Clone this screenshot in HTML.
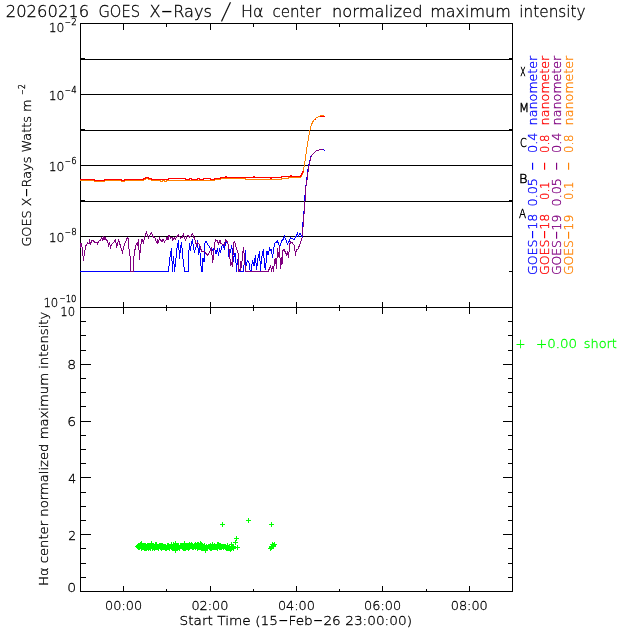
<!DOCTYPE html>
<html lang="en"><head><meta charset="utf-8"><title>20260216 GOES X-Rays / H-alpha center normalized maximum intensity</title>
<style>html,body{margin:0;padding:0;background:#fff}body{width:640px;height:640px;overflow:hidden}svg{display:block;will-change:transform}text{font-family:"DejaVu Sans Light","DejaVu Sans","Liberation Sans",sans-serif;font-weight:200;color:#000;fill:currentColor;stroke:currentColor;stroke-width:.3px}.ln{stroke:#000;stroke-width:1;fill:none;shape-rendering:crispEdges}.cv{stroke-width:1;fill:none;shape-rendering:crispEdges;stroke-linejoin:miter}</style></head><body>
<svg width="640" height="640" viewBox="0 0 640 640">
<rect width="640" height="640" fill="#fff"/>
<path class="ln" d="M80.5 23.5H512.5V591.5H80.5ZM80.5 307.5H512.5M80.5 59.5H512.5M80.5 94.5H512.5M80.5 130.5H512.5M80.5 165.5H512.5M80.5 201.5H512.5M80.5 236.5H512.5M123.5 23.5v6M123.5 301.5v12M123.5 591.5v-6M166.5 23.5v3M166.5 304.5v6M166.5 591.5v-3M210.5 23.5v6M210.5 301.5v12M210.5 591.5v-6M253.5 23.5v3M253.5 304.5v6M253.5 591.5v-3M296.5 23.5v6M296.5 301.5v12M296.5 591.5v-6M339.5 23.5v3M339.5 304.5v6M339.5 591.5v-3M382.5 23.5v6M382.5 301.5v12M382.5 591.5v-6M426.5 23.5v3M426.5 304.5v6M426.5 591.5v-3M469.5 23.5v6M469.5 301.5v12M469.5 591.5v-6M80.5 58.5h4M512.5 58.5h-4M80.5 129.5h4M512.5 129.5h-4M80.5 200.5h4M512.5 200.5h-4M80.5 271.5h4M512.5 271.5h-4M80.5 577.5h5M512.5 577.5h-5M80.5 563.5h5M512.5 563.5h-5M80.5 548.5h5M512.5 548.5h-5M80.5 534.5h10M512.5 534.5h-10M80.5 520.5h5M512.5 520.5h-5M80.5 506.5h5M512.5 506.5h-5M80.5 492.5h5M512.5 492.5h-5M80.5 477.5h10M512.5 477.5h-10M80.5 463.5h5M512.5 463.5h-5M80.5 449.5h5M512.5 449.5h-5M80.5 435.5h5M512.5 435.5h-5M80.5 421.5h10M512.5 421.5h-10M80.5 406.5h5M512.5 406.5h-5M80.5 392.5h5M512.5 392.5h-5M80.5 378.5h5M512.5 378.5h-5M80.5 364.5h10M512.5 364.5h-10M80.5 350.5h5M512.5 350.5h-5M80.5 335.5h5M512.5 335.5h-5M80.5 321.5h5M512.5 321.5h-5"/>
<polyline class="cv" style="stroke:#0000ff" points="80,271.5 168.5,271.5 169,266 169.5,260.5 170.5,254 171.5,248 172,261 172.5,271.5 173.5,256.5 174.5,271.5 175.5,263 177,248.5 178.5,240.5 179.5,258.5 180.5,248 181.5,242 182.5,254 183.5,263 184.5,271.5 188.3,271.5 188.5,258 189.5,243 190.5,250.5 191.5,242.5 192.5,240.5 193.5,248 194.5,251.5 196.5,246 197.5,240.5 198.5,254.5 199.5,245.5 200.5,260.5 201.5,271.5 202.5,271.5 203,258 204,262 205,243 206,241.5 207.5,244 209.5,247 210.5,249.5 211.5,253 212.5,249.5 214.5,248.5 216,254 217.5,248 218.5,255.5 219.5,248 220.5,253 221.5,247 223,245 224.5,249 225.5,243 227,242.5 228.5,245 229,256.5 230.5,251.5 231.5,246.5 232.5,249.5 233.5,261.5 234.5,253.5 235.5,254 236.5,271.5 237.5,259.5 238.5,267 239.5,271.5 243.5,271.5 244,265 245.5,250.5 246,266 247.5,260.5 249,263 250,270 251,271.5 252.5,260.5 254,266 255.5,255 256.5,270 258,258 259.5,251.5 260.5,270.5 261.5,258 263.5,249 264.5,266 265.5,270 267,251 268,255 269.5,248.5 270.5,250.5 271.5,249.5 272.5,258 273.5,250 274.5,243.5 276,242.5 277.5,240.5 278.5,244.5 280,246.5 281.5,241 283,239.5 284.5,236.5 286,240 287.5,244 289,241.5 290.5,238 292,238.5 294,240 295.5,237.5 297.5,233.5 298.5,236 300,233.5 301.5,236 302.2,236.5 302.8,225 303.45,216.25 304.45,206.25 305.3,188.75 306.6,181.25 307.2,175.6 308.2,168 309.2,163.5 310.2,159 311.2,155.5 312.5,154.5 313.5,153.5 314.5,152.5 315.5,151.5 316.5,150.5 318.5,150.5 319.5,149.5 323.5,149.5 324.5,150.5 325,150.5"/>
<polyline class="cv" style="stroke:#ff8000" points="80,180.5 94,180.5 94,181.5 104.5,181.5 104.5,180.5 121,180.5 121,181.5 124,181.5 124,180.5 143.5,180.5 143.5,179.5 145,179.5 145,178.5 148.5,178.5 148.5,179.5 151,179.5 151,180.5 160,180.5 160,181.5 162.5,181.5 162.5,180.5 164,180.5 164,181.5 166,181.5 166,180.5 214,180.5 214,179.5 220.5,179.5 220.5,178.5 245.7,178.5 245.7,179.5 281,179.5 281,178.5 288.7,178.5 288.7,177.5 300.5,177.5 300.5,176.5 301.5,176.5 301.5,174.5 302.5,174.5 302.5,172 303.5,172 303.5,170 304.5,165 305.5,158 306.5,149.5 307.5,144 308.5,138 309.5,132 310.5,127.5 311.5,124.5 312.5,122.5 313.5,120.5 314.5,119.5 315.5,118.5 316.5,117.5 317.5,117.5 318.5,116.5 319.5,116.5 320.5,115.5 324,115.5"/>
<polyline class="cv" style="stroke:#800080" points="80,248 81,243 82,246.5 83.5,260.5 84.5,252 86,245.5 87.5,243 89,244 89.5,239.5 90.5,245 92,240 93,240.5 94.5,242 97,242.5 97.5,244 98.5,241.5 100,240.5 101.5,238 102.5,240 103.5,236.5 104,240 105,237.5 106.5,240.5 107.5,240.5 108.5,245.5 109.5,243 110.5,247.5 112,244 114,242 115.5,239.5 116.5,247 117.5,245 118.5,239.5 120,244.5 122.5,252.5 123.5,248 125,243 127.5,237.5 128.5,239 129,248.5 130,256 130.5,271.5 133.5,271.5 133.8,257 135,249.5 136,245 137.5,243 138,245.5 138.5,239.5 139.5,259.5 140.5,247 141.5,242 142,239 143.5,243.5 144.5,237 146.5,232.5 147.5,236 148.5,238 150,235 151.5,233 153,236.5 155,238 156.5,242 157.5,239.5 158,243.5 159.5,238 161,240.5 162,242 163,239.5 164.5,242 166,240 167,237.5 168,240 169,235 170.5,238 172,237.5 172.5,240 174.5,238 175.5,239 177,236.5 178.5,235 180.5,238 182,237.5 183.5,234.5 184.5,237.5 185.5,240 187,236 188,235 189.5,237 191,236 192.5,233.5 194,237.5 195.5,241.5 196.5,245.5 197.5,243 199.5,244.5 201,249.5 202,252 204.5,251.5 205.5,253 206,253 207.5,255.5 209.5,252 211.5,248 212.5,262.5 213.5,257 214.5,244 215.5,239.5 217,240.5 218.5,243.5 220,240.5 221,243.5 223.5,244.5 224.5,245.5 225.5,239.5 227,241.5 228.5,245.5 229.5,251.5 230.5,265.5 231.5,262 232.5,267 233.5,243 234.5,241.5 236,247 238,253 238.5,271.5 240,271.5 240.5,261 241.5,268 242.5,255 243.5,247.5 244.5,258 245.5,271.5 266,271.5 267,271.5 268,271.5 269.5,268.5 270.5,265 271.5,271.5 272.5,266 273.5,271.5 274.5,260 275.5,258.5 276.5,268.5 277.5,248 278.5,257 279.5,246.5 280.5,268.5 281.5,257 282,264.5 283,250.5 284,249.5 285.5,252.5 286.5,254.5 287.5,252 288.5,258 289.5,245.5 290.5,241.5 292.5,243 294.5,246 295.5,255.5 296.5,249.5 298,249 300,244 301.5,240 302.5,236.5 303.1,225 303.75,216.25 304.75,206.25 305.6,188.75 306.9,181.25 307.5,175.6 308.5,168 309.5,163.5 310.5,159 311.5,155.5 312.5,154.5 313.5,153.5 314.5,152.5 315.5,151.5 316.5,150.5 318.5,150.5 319.5,149.5 323,149.5"/>
<polyline class="cv" style="stroke:#ff0000" points="80,179.5 94,179.5 94,180.5 104.5,180.5 104.5,179.5 118,179.5 118,179.5 121,179.5 121,180.5 124,180.5 124,179.5 143.5,179.5 143.5,178.5 145,178.5 145,177.5 148.5,177.5 148.5,178.5 151,178.5 151,179.5 168,179.5 168,178.5 185,178.5 185,179.5 189,179.5 189,178.5 191,178.5 191,179.5 197,179.5 197,178.5 199,178.5 199,179.5 203,179.5 203,178.5 210.5,178.5 210.5,179.5 214,179.5 214,178.5 220.5,178.5 220.5,177.5 225,177.5 225,176.5 226,176.5 226,177.5 253.5,177.5 253.5,176.5 254.5,176.5 254.5,177.5 270.5,177.5 270.5,178.5 271.5,178.5 271.5,177.5 281,177.5 281,176.5 290.3,176.5 290.3,175.5 291.3,175.5 291.3,176.5 300.5,176.5 300.5,175.5 301.5,175.5 301.5,173.5 302.5,173.5 302.5,171 303.5,171"/>
<polyline class="cv" style="stroke:#ff8000" points="303.5,170 304.5,165 305.5,158 306.5,149.5 307.5,144 308.5,138 309.5,132 310.5,127.5 311.5,124.5 312.5,122.5 313.5,120.5 314.5,119.5 315.5,118.5 316.5,117.5 317.5,117.5 318.5,116.5 319.5,116.5 320.5,115.5 324,115.5"/>
<polyline class="cv" style="stroke:#ff0000" points="315,119.5 316,119.5"/>
<polyline class="cv" style="stroke:#ff0000" points="320,116.5 325,116.5"/>
<path class="cv" style="stroke:#00ff00" d="M135.0 546.5h5M137.5 544.0v5M136.0 547.5h5M138.5 545.0v5M136.0 545.5h5M138.5 543.0v5M136.0 546.5h5M138.5 544.0v5M136.0 546.5h5M138.5 544.0v5M137.0 546.5h5M139.5 544.0v5M137.0 547.5h5M139.5 545.0v5M137.0 546.5h5M139.5 544.0v5M138.0 546.5h5M140.5 544.0v5M138.0 546.5h5M140.5 544.0v5M138.0 544.5h5M140.5 542.0v5M138.0 544.5h5M140.5 542.0v5M139.0 543.5h5M141.5 541.0v5M139.0 548.5h5M141.5 546.0v5M139.0 547.5h5M141.5 545.0v5M139.0 545.5h5M141.5 543.0v5M140.0 547.5h5M142.5 545.0v5M140.0 547.5h5M142.5 545.0v5M141.0 547.5h5M143.5 545.0v5M141.0 547.5h5M143.5 545.0v5M141.0 546.5h5M143.5 544.0v5M142.0 546.5h5M144.5 544.0v5M142.0 547.5h5M144.5 545.0v5M142.0 548.5h5M144.5 546.0v5M142.0 545.5h5M144.5 543.0v5M143.0 548.5h5M145.5 546.0v5M143.0 545.5h5M145.5 543.0v5M143.0 548.5h5M145.5 546.0v5M144.0 546.5h5M146.5 544.0v5M144.0 548.5h5M146.5 546.0v5M144.0 547.5h5M146.5 545.0v5M145.0 545.5h5M147.5 543.0v5M145.0 547.5h5M147.5 545.0v5M145.0 546.5h5M147.5 544.0v5M145.0 546.5h5M147.5 544.0v5M146.0 545.5h5M148.5 543.0v5M146.0 548.5h5M148.5 546.0v5M147.0 547.5h5M149.5 545.0v5M147.0 547.5h5M149.5 545.0v5M147.0 545.5h5M149.5 543.0v5M148.0 545.5h5M150.5 543.0v5M148.0 545.5h5M150.5 543.0v5M148.0 548.5h5M150.5 546.0v5M149.0 543.5h5M151.5 541.0v5M149.0 546.5h5M151.5 544.0v5M149.0 546.5h5M151.5 544.0v5M150.0 548.5h5M152.5 546.0v5M150.0 546.5h5M152.5 544.0v5M150.0 545.5h5M152.5 543.0v5M151.0 547.5h5M153.5 545.0v5M151.0 545.5h5M153.5 543.0v5M151.0 546.5h5M153.5 544.0v5M152.0 548.5h5M154.5 546.0v5M152.0 547.5h5M154.5 545.0v5M152.0 546.5h5M154.5 544.0v5M153.0 547.5h5M155.5 545.0v5M153.0 544.5h5M155.5 542.0v5M153.0 547.5h5M155.5 545.0v5M154.0 547.5h5M156.5 545.0v5M154.0 544.5h5M156.5 542.0v5M154.0 545.5h5M156.5 543.0v5M155.0 547.5h5M157.5 545.0v5M155.0 547.5h5M157.5 545.0v5M156.0 547.5h5M158.5 545.0v5M156.0 546.5h5M158.5 544.0v5M156.0 548.5h5M158.5 546.0v5M156.0 546.5h5M158.5 544.0v5M157.0 546.5h5M159.5 544.0v5M157.0 545.5h5M159.5 543.0v5M158.0 547.5h5M160.5 545.0v5M158.0 545.5h5M160.5 543.0v5M159.0 546.5h5M161.5 544.0v5M159.0 548.5h5M161.5 546.0v5M159.0 545.5h5M161.5 543.0v5M160.0 546.5h5M162.5 544.0v5M160.0 545.5h5M162.5 543.0v5M160.0 547.5h5M162.5 545.0v5M161.0 547.5h5M163.5 545.0v5M161.0 547.5h5M163.5 545.0v5M161.0 546.5h5M163.5 544.0v5M161.0 546.5h5M163.5 544.0v5M162.0 546.5h5M164.5 544.0v5M162.0 546.5h5M164.5 544.0v5M162.0 547.5h5M164.5 545.0v5M163.0 548.5h5M165.5 546.0v5M163.0 546.5h5M165.5 544.0v5M163.0 546.5h5M165.5 544.0v5M164.0 547.5h5M166.5 545.0v5M164.0 548.5h5M166.5 546.0v5M164.0 548.5h5M166.5 546.0v5M165.0 545.5h5M167.5 543.0v5M165.0 546.5h5M167.5 544.0v5M165.0 547.5h5M167.5 545.0v5M166.0 547.5h5M168.5 545.0v5M166.0 546.5h5M168.5 544.0v5M166.0 545.5h5M168.5 543.0v5M166.0 547.5h5M168.5 545.0v5M167.0 546.5h5M169.5 544.0v5M167.0 546.5h5M169.5 544.0v5M167.0 546.5h5M169.5 544.0v5M167.0 548.5h5M169.5 546.0v5M168.0 546.5h5M170.5 544.0v5M168.0 546.5h5M170.5 544.0v5M169.0 547.5h5M171.5 545.0v5M169.0 544.5h5M171.5 542.0v5M169.0 546.5h5M171.5 544.0v5M170.0 546.5h5M172.5 544.0v5M170.0 548.5h5M172.5 546.0v5M171.0 547.5h5M173.5 545.0v5M171.0 544.5h5M173.5 542.0v5M172.0 545.5h5M174.5 543.0v5M172.0 546.5h5M174.5 544.0v5M172.0 547.5h5M174.5 545.0v5M172.0 546.5h5M174.5 544.0v5M173.0 545.5h5M175.5 543.0v5M173.0 543.5h5M175.5 541.0v5M173.0 550.5h5M175.5 548.0v5M174.0 545.5h5M176.5 543.0v5M174.0 546.5h5M176.5 544.0v5M174.0 547.5h5M176.5 545.0v5M175.0 546.5h5M177.5 544.0v5M175.0 547.5h5M177.5 545.0v5M176.0 547.5h5M178.5 545.0v5M176.0 545.5h5M178.5 543.0v5M177.0 548.5h5M179.5 546.0v5M177.0 547.5h5M179.5 545.0v5M178.0 546.5h5M180.5 544.0v5M178.0 545.5h5M180.5 543.0v5M178.0 546.5h5M180.5 544.0v5M179.0 545.5h5M181.5 543.0v5M180.0 545.5h5M182.5 543.0v5M180.0 547.5h5M182.5 545.0v5M181.0 546.5h5M183.5 544.0v5M181.0 547.5h5M183.5 545.0v5M181.0 548.5h5M183.5 546.0v5M182.0 545.5h5M184.5 543.0v5M182.0 548.5h5M184.5 546.0v5M182.0 543.5h5M184.5 541.0v5M183.0 545.5h5M185.5 543.0v5M183.0 546.5h5M185.5 544.0v5M183.0 548.5h5M185.5 546.0v5M183.0 546.5h5M185.5 544.0v5M184.0 547.5h5M186.5 545.0v5M184.0 546.5h5M186.5 544.0v5M185.0 546.5h5M187.5 544.0v5M185.0 545.5h5M187.5 543.0v5M185.0 546.5h5M187.5 544.0v5M185.0 547.5h5M187.5 545.0v5M186.0 546.5h5M188.5 544.0v5M186.0 548.5h5M188.5 546.0v5M186.0 547.5h5M188.5 545.0v5M186.0 545.5h5M188.5 543.0v5M187.0 544.5h5M189.5 542.0v5M187.0 545.5h5M189.5 543.0v5M187.0 547.5h5M189.5 545.0v5M188.0 545.5h5M190.5 543.0v5M188.0 546.5h5M190.5 544.0v5M188.0 546.5h5M190.5 544.0v5M188.0 546.5h5M190.5 544.0v5M189.0 546.5h5M191.5 544.0v5M189.0 544.5h5M191.5 542.0v5M189.0 546.5h5M191.5 544.0v5M190.0 545.5h5M192.5 543.0v5M190.0 547.5h5M192.5 545.0v5M190.0 546.5h5M192.5 544.0v5M191.0 546.5h5M193.5 544.0v5M191.0 546.5h5M193.5 544.0v5M191.0 547.5h5M193.5 545.0v5M192.0 545.5h5M194.5 543.0v5M192.0 546.5h5M194.5 544.0v5M193.0 545.5h5M195.5 543.0v5M193.0 547.5h5M195.5 545.0v5M193.0 544.5h5M195.5 542.0v5M194.0 546.5h5M196.5 544.0v5M194.0 545.5h5M196.5 543.0v5M194.0 546.5h5M196.5 544.0v5M195.0 548.5h5M197.5 546.0v5M195.0 544.5h5M197.5 542.0v5M196.0 544.5h5M198.5 542.0v5M196.0 545.5h5M198.5 543.0v5M196.0 547.5h5M198.5 545.0v5M197.0 547.5h5M199.5 545.0v5M197.0 546.5h5M199.5 544.0v5M197.0 547.5h5M199.5 545.0v5M198.0 547.5h5M200.5 545.0v5M198.0 543.5h5M200.5 541.0v5M198.0 546.5h5M200.5 544.0v5M199.0 544.5h5M201.5 542.0v5M199.0 548.5h5M201.5 546.0v5M199.0 544.5h5M201.5 542.0v5M199.0 547.5h5M201.5 545.0v5M200.0 546.5h5M202.5 544.0v5M200.0 548.5h5M202.5 546.0v5M200.0 546.5h5M202.5 544.0v5M200.0 545.5h5M202.5 543.0v5M201.0 547.5h5M203.5 545.0v5M201.0 546.5h5M203.5 544.0v5M202.0 547.5h5M204.5 545.0v5M202.0 545.5h5M204.5 543.0v5M202.0 546.5h5M204.5 544.0v5M202.0 545.5h5M204.5 543.0v5M203.0 548.5h5M205.5 546.0v5M203.0 550.5h5M205.5 548.0v5M203.0 547.5h5M205.5 545.0v5M204.0 547.5h5M206.5 545.0v5M204.0 546.5h5M206.5 544.0v5M204.0 548.5h5M206.5 546.0v5M205.0 547.5h5M207.5 545.0v5M205.0 547.5h5M207.5 545.0v5M205.0 547.5h5M207.5 545.0v5M206.0 546.5h5M208.5 544.0v5M207.0 547.5h5M209.5 545.0v5M207.0 546.5h5M209.5 544.0v5M207.0 546.5h5M209.5 544.0v5M207.0 546.5h5M209.5 544.0v5M208.0 545.5h5M210.5 543.0v5M208.0 548.5h5M210.5 546.0v5M208.0 545.5h5M210.5 543.0v5M209.0 548.5h5M211.5 546.0v5M209.0 547.5h5M211.5 545.0v5M209.0 547.5h5M211.5 545.0v5M210.0 545.5h5M212.5 543.0v5M210.0 544.5h5M212.5 542.0v5M210.0 545.5h5M212.5 543.0v5M210.0 547.5h5M212.5 545.0v5M211.0 547.5h5M213.5 545.0v5M211.0 547.5h5M213.5 545.0v5M211.0 547.5h5M213.5 545.0v5M211.0 546.5h5M213.5 544.0v5M212.0 547.5h5M214.5 545.0v5M212.0 546.5h5M214.5 544.0v5M212.0 545.5h5M214.5 543.0v5M213.0 547.5h5M215.5 545.0v5M213.0 547.5h5M215.5 545.0v5M213.0 546.5h5M215.5 544.0v5M214.0 546.5h5M216.5 544.0v5M214.0 547.5h5M216.5 545.0v5M214.0 547.5h5M216.5 545.0v5M215.0 548.5h5M217.5 546.0v5M215.0 548.5h5M217.5 546.0v5M215.0 544.5h5M217.5 542.0v5M216.0 546.5h5M218.5 544.0v5M216.0 544.5h5M218.5 542.0v5M216.0 546.5h5M218.5 544.0v5M217.0 547.5h5M219.5 545.0v5M217.0 545.5h5M219.5 543.0v5M218.0 545.5h5M220.5 543.0v5M218.0 547.5h5M220.5 545.0v5M218.0 546.5h5M220.5 544.0v5M219.0 546.5h5M221.5 544.0v5M219.0 546.5h5M221.5 544.0v5M219.0 547.5h5M221.5 545.0v5M220.0 546.5h5M222.5 544.0v5M220.0 546.5h5M222.5 544.0v5M221.0 547.5h5M223.5 545.0v5M221.0 546.5h5M223.5 544.0v5M222.0 546.5h5M224.5 544.0v5M222.0 546.5h5M224.5 544.0v5M223.0 546.5h5M225.5 544.0v5M223.0 547.5h5M225.5 545.0v5M224.0 548.5h5M226.5 546.0v5M224.0 547.5h5M226.5 545.0v5M224.0 547.5h5M226.5 545.0v5M224.0 547.5h5M226.5 545.0v5M225.0 547.5h5M227.5 545.0v5M225.0 548.5h5M227.5 546.0v5M225.0 545.5h5M227.5 543.0v5M226.0 547.5h5M228.5 545.0v5M226.0 548.5h5M228.5 546.0v5M227.0 546.5h5M229.5 544.0v5M227.0 548.5h5M229.5 546.0v5M227.0 547.5h5M229.5 545.0v5M228.0 549.5h5M230.5 547.0v5M229.0 548.5h5M231.5 546.0v5M229.0 547.5h5M231.5 545.0v5M229.0 544.5h5M231.5 542.0v5M230.0 546.5h5M232.5 544.0v5M230.0 547.5h5M232.5 545.0v5M231.0 548.5h5M233.5 546.0v5M231.0 546.5h5M233.5 544.0v5M220.0 524.5h5M222.5 522.0v5M246.0 520.5h5M248.5 518.0v5M269.0 524.5h5M271.5 522.0v5M234.0 538.5h5M236.5 536.0v5M233.0 542.5h5M235.5 540.0v5M235.0 547.5h5M237.5 545.0v5M268.0 548.5h5M270.5 546.0v5M269.0 547.5h5M271.5 545.0v5M270.0 546.5h5M272.5 544.0v5M271.0 545.5h5M273.5 543.0v5M272.0 544.5h5M274.5 542.0v5M269.0 546.5h5M271.5 544.0v5M271.0 546.5h5M273.5 544.0v5M270.0 544.5h5M272.5 542.0v5"/>
<text x="5.75" y="17.10" font-size="15.8" textLength="83.50" lengthAdjust="spacingAndGlyphs">20260216</text>
<text x="98.50" y="17.10" font-size="15.8" textLength="41.50" lengthAdjust="spacingAndGlyphs">GOES</text>
<text x="149.50" y="17.10" font-size="15.8" textLength="62.50" lengthAdjust="spacingAndGlyphs">X<tspan font-size="34.0" dy="3.45" style="stroke-width:0">-</tspan><tspan dy="-3.45">Rays</tspan></text>
<text x="224.85" y="19.2" font-size="23" text-anchor="middle" style="stroke-width:.1px" transform="translate(224.85 19.2) skewX(-9) translate(-224.85 -19.2)">/</text>
<text x="241.00" y="17.10" font-size="15.8" textLength="22.50" lengthAdjust="spacingAndGlyphs">Hα</text>
<text x="272.50" y="17.10" font-size="15.8" textLength="48.50" lengthAdjust="spacingAndGlyphs">center</text>
<text x="332.00" y="17.10" font-size="15.8" textLength="90.50" lengthAdjust="spacingAndGlyphs">normalized</text>
<text x="430.25" y="17.10" font-size="15.8" textLength="80.50" lengthAdjust="spacingAndGlyphs">maximum</text>
<text x="519.30" y="17.10" font-size="15.8" textLength="66.30" lengthAdjust="spacingAndGlyphs">intensity</text>
<text x="105.10" y="609.50" font-size="12.8" textLength="37.10" lengthAdjust="spacingAndGlyphs">00:00</text>
<text x="191.40" y="609.50" font-size="12.8" textLength="37.10" lengthAdjust="spacingAndGlyphs">02:00</text>
<text x="277.90" y="609.50" font-size="12.8" textLength="37.10" lengthAdjust="spacingAndGlyphs">04:00</text>
<text x="364.10" y="609.50" font-size="12.8" textLength="37.10" lengthAdjust="spacingAndGlyphs">06:00</text>
<text x="450.70" y="609.50" font-size="12.8" textLength="37.10" lengthAdjust="spacingAndGlyphs">08:00</text>
<text x="179.50" y="625.00" font-size="12.8" textLength="232.50" lengthAdjust="spacingAndGlyphs">Start Time (15<tspan font-size="27.5" dy="2.79" style="stroke-width:0">-</tspan><tspan dy="-2.79">Feb</tspan><tspan font-size="27.5" dy="2.79" style="stroke-width:0">-</tspan><tspan dy="-2.79">26 23:00:00)</tspan></text>
<text x="48.70" y="31.50" font-size="12.8" textLength="15.70" lengthAdjust="spacingAndGlyphs">10</text>
<text x="64.60" y="25.40" font-size="8.0" textLength="12.10" lengthAdjust="spacingAndGlyphs"><tspan font-size="17.2" dy="1.75" style="stroke-width:0">-</tspan><tspan dy="-1.75">2</tspan></text>
<text x="48.70" y="99.50" font-size="12.8" textLength="15.70" lengthAdjust="spacingAndGlyphs">10</text>
<text x="64.60" y="93.40" font-size="8.0" textLength="12.10" lengthAdjust="spacingAndGlyphs"><tspan font-size="17.2" dy="1.75" style="stroke-width:0">-</tspan><tspan dy="-1.75">4</tspan></text>
<text x="48.70" y="170.50" font-size="12.8" textLength="15.70" lengthAdjust="spacingAndGlyphs">10</text>
<text x="64.60" y="164.40" font-size="8.0" textLength="12.10" lengthAdjust="spacingAndGlyphs"><tspan font-size="17.2" dy="1.75" style="stroke-width:0">-</tspan><tspan dy="-1.75">6</tspan></text>
<text x="48.70" y="241.50" font-size="12.8" textLength="15.70" lengthAdjust="spacingAndGlyphs">10</text>
<text x="64.60" y="235.40" font-size="8.0" textLength="12.10" lengthAdjust="spacingAndGlyphs"><tspan font-size="17.2" dy="1.75" style="stroke-width:0">-</tspan><tspan dy="-1.75">8</tspan></text>
<text x="43.40" y="306.90" font-size="12.8" textLength="14.90" lengthAdjust="spacingAndGlyphs">10</text>
<text x="59.20" y="301.50" font-size="8.0" textLength="17.30" lengthAdjust="spacingAndGlyphs"><tspan font-size="17.2" dy="1.75" style="stroke-width:0">-</tspan><tspan dy="-1.75">10</tspan></text>
<text x="60.30" y="316.00" font-size="12.8" textLength="14.90" lengthAdjust="spacingAndGlyphs">10</text>
<text x="67.30" y="369.20" font-size="12.8" textLength="8.90" lengthAdjust="spacingAndGlyphs">8</text>
<text x="67.30" y="425.90" font-size="12.8" textLength="8.90" lengthAdjust="spacingAndGlyphs">6</text>
<text x="68.30" y="482.70" font-size="12.8" textLength="7.90" lengthAdjust="spacingAndGlyphs">4</text>
<text x="68.30" y="539.50" font-size="12.8" textLength="7.90" lengthAdjust="spacingAndGlyphs">2</text>
<text x="67.30" y="591.50" font-size="12.8" textLength="8.90" lengthAdjust="spacingAndGlyphs">0</text>
<text x="31.00" y="246.60" font-size="12.8" textLength="147.10" lengthAdjust="spacingAndGlyphs" transform="rotate(-90 31.00 246.60)">GOES X<tspan font-size="27.5" dy="2.79" style="stroke-width:0">-</tspan><tspan dy="-2.79">Rays Watts m</tspan></text>
<text x="25.00" y="95.00" font-size="8.0" textLength="10.70" lengthAdjust="spacingAndGlyphs" transform="rotate(-90 25.00 95.00)"><tspan font-size="17.2" dy="1.75" style="stroke-width:0">-</tspan><tspan dy="-1.75">2</tspan></text>
<text x="48.20" y="586.00" font-size="12.8" textLength="274.30" lengthAdjust="spacingAndGlyphs" transform="rotate(-90 48.20 586.00)">Hα center normalized maximum intensity</text>
<text x="520.30" y="75.90" font-size="12.8" textLength="5.30" lengthAdjust="spacingAndGlyphs" style="stroke-width:.5px">X</text>
<text x="519.00" y="112.30" font-size="12.8" textLength="10.10" lengthAdjust="spacingAndGlyphs" style="stroke-width:.5px">M</text>
<text x="520.00" y="146.90" font-size="12.8" textLength="6.70" lengthAdjust="spacingAndGlyphs" style="stroke-width:.5px">C</text>
<text x="518.90" y="182.80" font-size="12.8" textLength="8.50" lengthAdjust="spacingAndGlyphs" style="stroke-width:.5px">B</text>
<text x="519.00" y="218.10" font-size="12.8" textLength="7.10" lengthAdjust="spacingAndGlyphs" style="stroke-width:.5px">A</text>
<text x="537.00" y="275.00" font-size="12.8" textLength="61.30" lengthAdjust="spacingAndGlyphs" transform="rotate(-90 537.00 275.00)" style="color:#0000ff">GOES<tspan font-size="27.5" dy="2.79" style="stroke-width:0">-</tspan><tspan dy="-2.79">18</tspan></text>
<text x="537.00" y="206.50" font-size="12.8" textLength="28.50" lengthAdjust="spacingAndGlyphs" transform="rotate(-90 537.00 206.50)" style="color:#0000ff">0.05</text>
<text x="537.00" y="171.00" font-size="12.8" textLength="9.50" lengthAdjust="spacingAndGlyphs" transform="rotate(-90 537.00 171.00)" style="color:#0000ff"><tspan font-size="27.5" dy="2.79" style="stroke-width:0">-</tspan></text>
<text x="537.00" y="153.00" font-size="12.8" textLength="20.50" lengthAdjust="spacingAndGlyphs" transform="rotate(-90 537.00 153.00)" style="color:#0000ff">0.4</text>
<text x="537.00" y="125.40" font-size="12.8" textLength="69.70" lengthAdjust="spacingAndGlyphs" transform="rotate(-90 537.00 125.40)" style="color:#0000ff">nanometer</text>
<text x="549.00" y="275.00" font-size="12.8" textLength="61.30" lengthAdjust="spacingAndGlyphs" transform="rotate(-90 549.00 275.00)" style="color:#ff0000">GOES<tspan font-size="27.5" dy="2.79" style="stroke-width:0">-</tspan><tspan dy="-2.79">18</tspan></text>
<text x="549.00" y="200.00" font-size="12.8" textLength="18.50" lengthAdjust="spacingAndGlyphs" transform="rotate(-90 549.00 200.00)" style="color:#ff0000">0.1</text>
<text x="549.00" y="171.00" font-size="12.8" textLength="9.50" lengthAdjust="spacingAndGlyphs" transform="rotate(-90 549.00 171.00)" style="color:#ff0000"><tspan font-size="27.5" dy="2.79" style="stroke-width:0">-</tspan></text>
<text x="549.00" y="153.00" font-size="12.8" textLength="18.50" lengthAdjust="spacingAndGlyphs" transform="rotate(-90 549.00 153.00)" style="color:#ff0000">0.8</text>
<text x="549.00" y="125.40" font-size="12.8" textLength="69.70" lengthAdjust="spacingAndGlyphs" transform="rotate(-90 549.00 125.40)" style="color:#ff0000">nanometer</text>
<text x="561.00" y="275.00" font-size="12.8" textLength="60.30" lengthAdjust="spacingAndGlyphs" transform="rotate(-90 561.00 275.00)" style="color:#800080">GOES<tspan font-size="27.5" dy="2.79" style="stroke-width:0">-</tspan><tspan dy="-2.79">19</tspan></text>
<text x="561.00" y="206.50" font-size="12.8" textLength="28.50" lengthAdjust="spacingAndGlyphs" transform="rotate(-90 561.00 206.50)" style="color:#800080">0.05</text>
<text x="561.00" y="171.00" font-size="12.8" textLength="9.50" lengthAdjust="spacingAndGlyphs" transform="rotate(-90 561.00 171.00)" style="color:#800080"><tspan font-size="27.5" dy="2.79" style="stroke-width:0">-</tspan></text>
<text x="561.00" y="153.00" font-size="12.8" textLength="20.50" lengthAdjust="spacingAndGlyphs" transform="rotate(-90 561.00 153.00)" style="color:#800080">0.4</text>
<text x="561.00" y="125.40" font-size="12.8" textLength="69.70" lengthAdjust="spacingAndGlyphs" transform="rotate(-90 561.00 125.40)" style="color:#800080">nanometer</text>
<text x="573.00" y="275.00" font-size="12.8" textLength="60.30" lengthAdjust="spacingAndGlyphs" transform="rotate(-90 573.00 275.00)" style="color:#ff8000">GOES<tspan font-size="27.5" dy="2.79" style="stroke-width:0">-</tspan><tspan dy="-2.79">19</tspan></text>
<text x="573.00" y="200.00" font-size="12.8" textLength="18.50" lengthAdjust="spacingAndGlyphs" transform="rotate(-90 573.00 200.00)" style="color:#ff8000">0.1</text>
<text x="573.00" y="171.00" font-size="12.8" textLength="9.50" lengthAdjust="spacingAndGlyphs" transform="rotate(-90 573.00 171.00)" style="color:#ff8000"><tspan font-size="27.5" dy="2.79" style="stroke-width:0">-</tspan></text>
<text x="573.00" y="153.00" font-size="12.8" textLength="18.50" lengthAdjust="spacingAndGlyphs" transform="rotate(-90 573.00 153.00)" style="color:#ff8000">0.8</text>
<text x="573.00" y="125.40" font-size="12.8" textLength="69.70" lengthAdjust="spacingAndGlyphs" transform="rotate(-90 573.00 125.40)" style="color:#ff8000">nanometer</text>
<text x="515.60" y="347.50" font-size="12.8" textLength="9.90" lengthAdjust="spacingAndGlyphs" style="color:#00ff00">+</text>
<text x="535.90" y="347.50" font-size="12.8" textLength="41.10" lengthAdjust="spacingAndGlyphs" style="color:#00ff00">+0.00</text>
<text x="583.80" y="347.50" font-size="12.8" textLength="33.10" lengthAdjust="spacingAndGlyphs" style="color:#00ff00">short</text>
</svg></body></html>
